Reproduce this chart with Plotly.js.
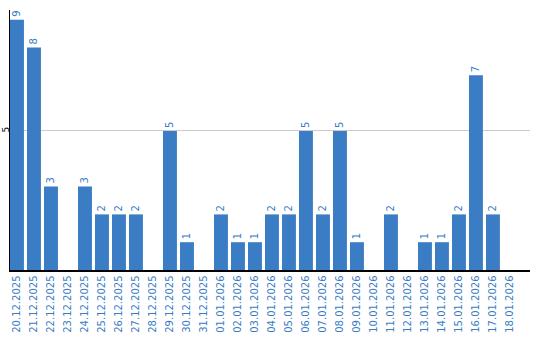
<!DOCTYPE html>
<html>
<head>
<meta charset="utf-8">
<script src="https://cdn.plot.ly/plotly-3.0.1.min.js"></script>
<style>html,body{margin:0;padding:0;background:#fff;}#chart{width:540px;height:340px;}</style>
</head>
<body>
<div id="chart"></div>
<script>
const dates = ["20.12.2025","21.12.2025","22.12.2025","23.12.2025","24.12.2025","25.12.2025","26.12.2025","27.12.2025","28.12.2025","29.12.2025","30.12.2025","31.12.2025","01.01.2026","02.01.2026","03.01.2026","04.01.2026","05.01.2026","06.01.2026","07.01.2026","08.01.2026","09.01.2026","10.01.2026","11.01.2026","12.01.2026","13.01.2026","14.01.2026","15.01.2026","16.01.2026","17.01.2026","18.01.2026"];
const counts = [9,8,3,0,3,2,2,2,0,5,1,0,2,1,1,2,2,5,2,5,1,0,2,0,1,1,2,7,2,0];
const yTicks = [5];

const blue = "#3a7dc4";
const trace = {
  type: "bar",
  x: dates,
  y: counts,
  marker: {color: blue},
  text: counts.map(v => v === 0 ? "" : String(v)),
  textposition: "outside",
  textangle: -90,
  cliponaxis: false,
  textfont: {family: "DejaVu Sans", size: 10, color: blue},
  hoverinfo: "none"
};
const layout = {
  width: 540, height: 340,
  margin: {l: 10, r: 10, t: 10, b: 70},
  paper_bgcolor: "#fff", plot_bgcolor: "#fff",
  showlegend: false,
  bargap: 0.18,
  font: {family: "DejaVu Sans", size: 10},
  xaxis: {
    type: "category",
    range: [-0.41, 30.18],
    tickangle: -90,
    tickfont: {family: "DejaVu Sans", size: 10, color: blue},
    showline: true, linecolor: "#000", linewidth: 1.5,
    showgrid: false, ticks: "", automargin: false
  },
  yaxis: {
    range: [0, 9.35],
    tickvals: yTicks,
    ticktext: yTicks.map(String),
    tickangle: -90,
    tickfont: {family: "DejaVu Sans", size: 9, color: "#000"},
    showline: true, linecolor: "#000", linewidth: 1,
    layer: "below traces",
    showgrid: true, gridcolor: "#cccccc", gridwidth: 1,
    zeroline: false, ticks: "", automargin: false, ticklabelstandoff: -4
  }
};
Plotly.newPlot("chart", [trace], layout, {staticPlot: true, displayModeBar: false});
</script>
</body>
</html>
